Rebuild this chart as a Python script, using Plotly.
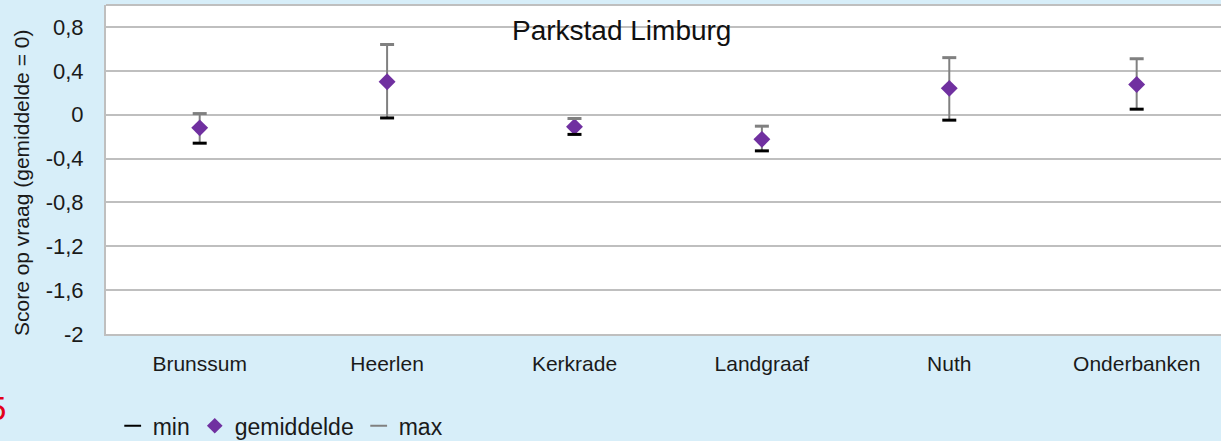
import plotly.graph_objects as go

categories = ["Brunssum", "Heerlen", "Kerkrade", "Landgraaf", "Nuth", "Onderbanken"]
means = [-0.12, 0.30, -0.11, -0.225, 0.24, 0.275]
mins = [-0.26, -0.03, -0.18, -0.33, -0.05, 0.05]
maxs = [0.01, 0.64, -0.035, -0.105, 0.52, 0.51]
y_ticks = [-2, -1.6, -1.2, -0.8, -0.4, 0, 0.4, 0.8]
y_ticklabels = ["-2", "-1,6", "-1,2", "-0,8", "-0,4", "0", "0,4", "0,8"]

FONT = "Liberation Sans, Arial, sans-serif"
GRID = "#BFBFBF"
BG = "#D7EEF9"

fig = go.Figure()

fig.add_trace(go.Scatter(
    x=categories, y=means, mode="markers", name="gemiddelde",
    legendrank=2,
    marker=dict(symbol="diamond", size=13, color="#7030A0"),
    error_y=dict(type="data", symmetric=False,
                 array=[mx - m for mx, m in zip(maxs, means)],
                 arrayminus=[m - mn for m, mn in zip(means, mins)],
                 color="#808080", thickness=2, width=0),
))
fig.add_trace(go.Scatter(
    x=categories, y=mins, mode="markers", name="min", legendrank=1,
    marker=dict(symbol="line-ew", size=10, color="black",
                line=dict(color="black", width=3)),
))
fig.add_trace(go.Scatter(
    x=categories, y=maxs, mode="markers", name="max", legendrank=3,
    marker=dict(symbol="line-ew", size=10, color="#808080",
                line=dict(color="#808080", width=3)),
))

fig.update_layout(
    width=1221, height=441,
    margin=dict(l=106, r=0, t=5, b=107, autoexpand=False),
    paper_bgcolor=BG, plot_bgcolor="white",
    font=dict(family=FONT, color="#1a1a1a"),
    showlegend=True,
    legend=dict(orientation="h", x=0.006, xanchor="left", y=-0.279, yanchor="middle",
                font=dict(size=23, color="#1a1a1a"), bgcolor="rgba(0,0,0,0)",
                traceorder="normal", itemsizing="constant"),
    xaxis=dict(type="category", range=[-0.5, 5.45], showgrid=False,
               showline=True, linecolor=GRID, linewidth=2, automargin=False,
               ticks="outside", ticklen=10, tickcolor="rgba(0,0,0,0)",
               tickfont=dict(size=21, color="#1a1a1a"), fixedrange=True),
    yaxis=dict(range=[-2, 1.0], tickvals=y_ticks, ticktext=y_ticklabels,
               showgrid=True, gridcolor=GRID, gridwidth=2,
               zeroline=True, zerolinecolor=GRID, zerolinewidth=2,
               showline=True, linecolor=GRID, linewidth=2, automargin=False,
               ticks="outside", ticklen=16, tickcolor="rgba(0,0,0,0)",
               tickfont=dict(size=22, color="#1a1a1a"), fixedrange=True),
    shapes=[dict(type="line", xref="paper", yref="paper", x0=0, x1=1, y0=1, y1=1,
                 line=dict(color=GRID, width=2))],
    annotations=[
        dict(text="Parkstad Limburg", xref="paper", yref="paper", x=0.462, y=0.924,
             xanchor="center", yanchor="middle", showarrow=False,
             font=dict(size=28, color="#111111")),
        dict(text="Score op vraag (gemiddelde = 0)", xref="paper", yref="paper",
             x=-0.0753, y=0.459, xanchor="center", yanchor="middle", textangle=-90,
             showarrow=False, font=dict(size=21, color="#1a1a1a")),
        dict(text="5", xref="paper", yref="paper", x=-0.0879, y=-0.225,
             xanchor="right", yanchor="middle", showarrow=False,
             font=dict(size=33, color="#E3001B")),
    ],
)

page_fix = (
    "var h=document.documentElement, b=document.body;"
    "h.style.margin='0'; b.style.margin='0';"
    "h.style.overflow='hidden'; b.style.overflow='hidden';"
)

fig.write_html("out.html", config={"displayModeBar": False}, post_script=page_fix)
